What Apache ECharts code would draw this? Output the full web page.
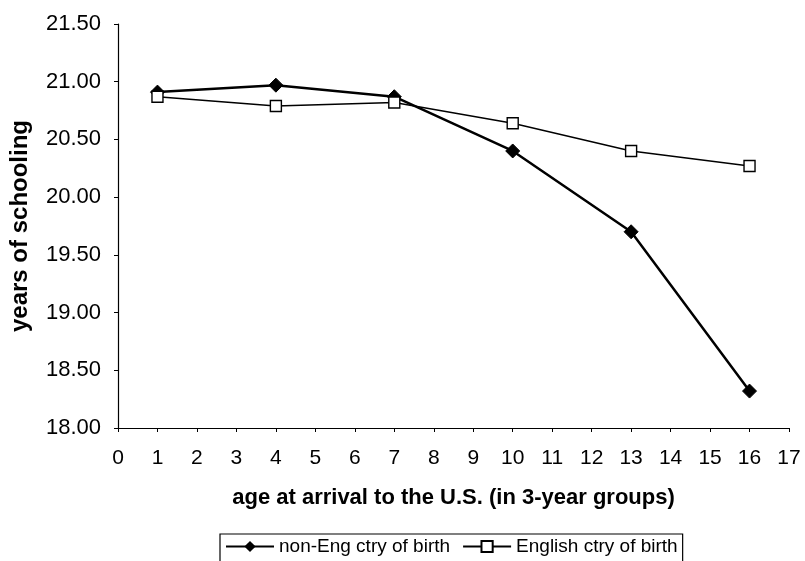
<!DOCTYPE html>
<html><head><meta charset="utf-8">
<script src="https://cdn.jsdelivr.net/npm/echarts@6/dist/echarts.min.js"></script>
<style>html,body{margin:0;padding:0;background:#fff;}#c{width:805px;height:561px;}</style>
</head><body><div id="c"></div>
<script>
var ages = [1, 4, 7, 10, 13, 16];
var nonEng = [20.91, 20.97, 20.87, 20.40, 19.70, 18.32];
var english = [20.87, 20.79, 20.82, 20.64, 20.40, 20.27];
var seriesNames = ['non-Eng ctry of birth', 'English ctry of birth'];
var font = 'Liberation Sans, Arial, sans-serif';
var chart = echarts.init(document.getElementById('c'));
chart.setOption({
  animation: false,
  backgroundColor: '#fff',
  grid: {left: 117, right: 16, top: 24, bottom: 133},
  xAxis: {
    type: 'value', min: 0, max: 17, interval: 1,
    name: 'age at arrival to the U.S. (in 3-year groups)',
    nameLocation: 'middle', nameGap: 59,
    nameTextStyle: {fontFamily: font, fontWeight: 'bold', fontSize: 22, color: '#000'},
    axisLine: {lineStyle: {color: '#000', width: 1.2}},
    axisTick: {show: true, length: 4, lineStyle: {color: '#000'}},
    axisLabel: {fontFamily: font, fontSize: 21, color: '#000', margin: 20},
    splitLine: {show: false}
  },
  yAxis: {
    type: 'value', min: 18, max: 21.5, interval: 0.5,
    name: 'years of schooling', nameLocation: 'middle', nameGap: 86,
    nameTextStyle: {fontFamily: font, fontWeight: 'bold', fontSize: 24, color: '#000'},
    axisLine: {show: true, lineStyle: {color: '#000', width: 1.2}},
    axisTick: {show: true, length: 4, lineStyle: {color: '#000'}},
    axisLabel: {fontFamily: font, fontSize: 22, color: '#000', margin: 17,
      formatter: function(v){return v.toFixed(2);}},
    splitLine: {show: false}
  },
  legend: {
    left: 220, top: 534,
    data: seriesNames,
    borderColor: '#000', borderWidth: 1.2, borderRadius: 0,
    padding: [3, 5, 20, 5],
    itemWidth: 48, itemHeight: 14, itemGap: 12,
    textStyle: {fontFamily: font, fontSize: 19, color: '#000'}
  },
  series: [
    {name: seriesNames[0], type: 'line', data: ages.map(function(a,i){return [a, nonEng[i]];}),
     symbol: 'diamond', symbolSize: 14,
     itemStyle: {color: '#000', borderColor: '#000'},
     lineStyle: {color: '#000', width: 2.5}},
    {name: seriesNames[1], type: 'line', data: ages.map(function(a,i){return [a, english[i]];}),
     symbol: 'rect', symbolSize: 11,
     itemStyle: {color: '#fff', borderColor: '#000', borderWidth: 1.4},
     lineStyle: {color: '#000', width: 1.4}}
  ]
});
</script></body></html>
